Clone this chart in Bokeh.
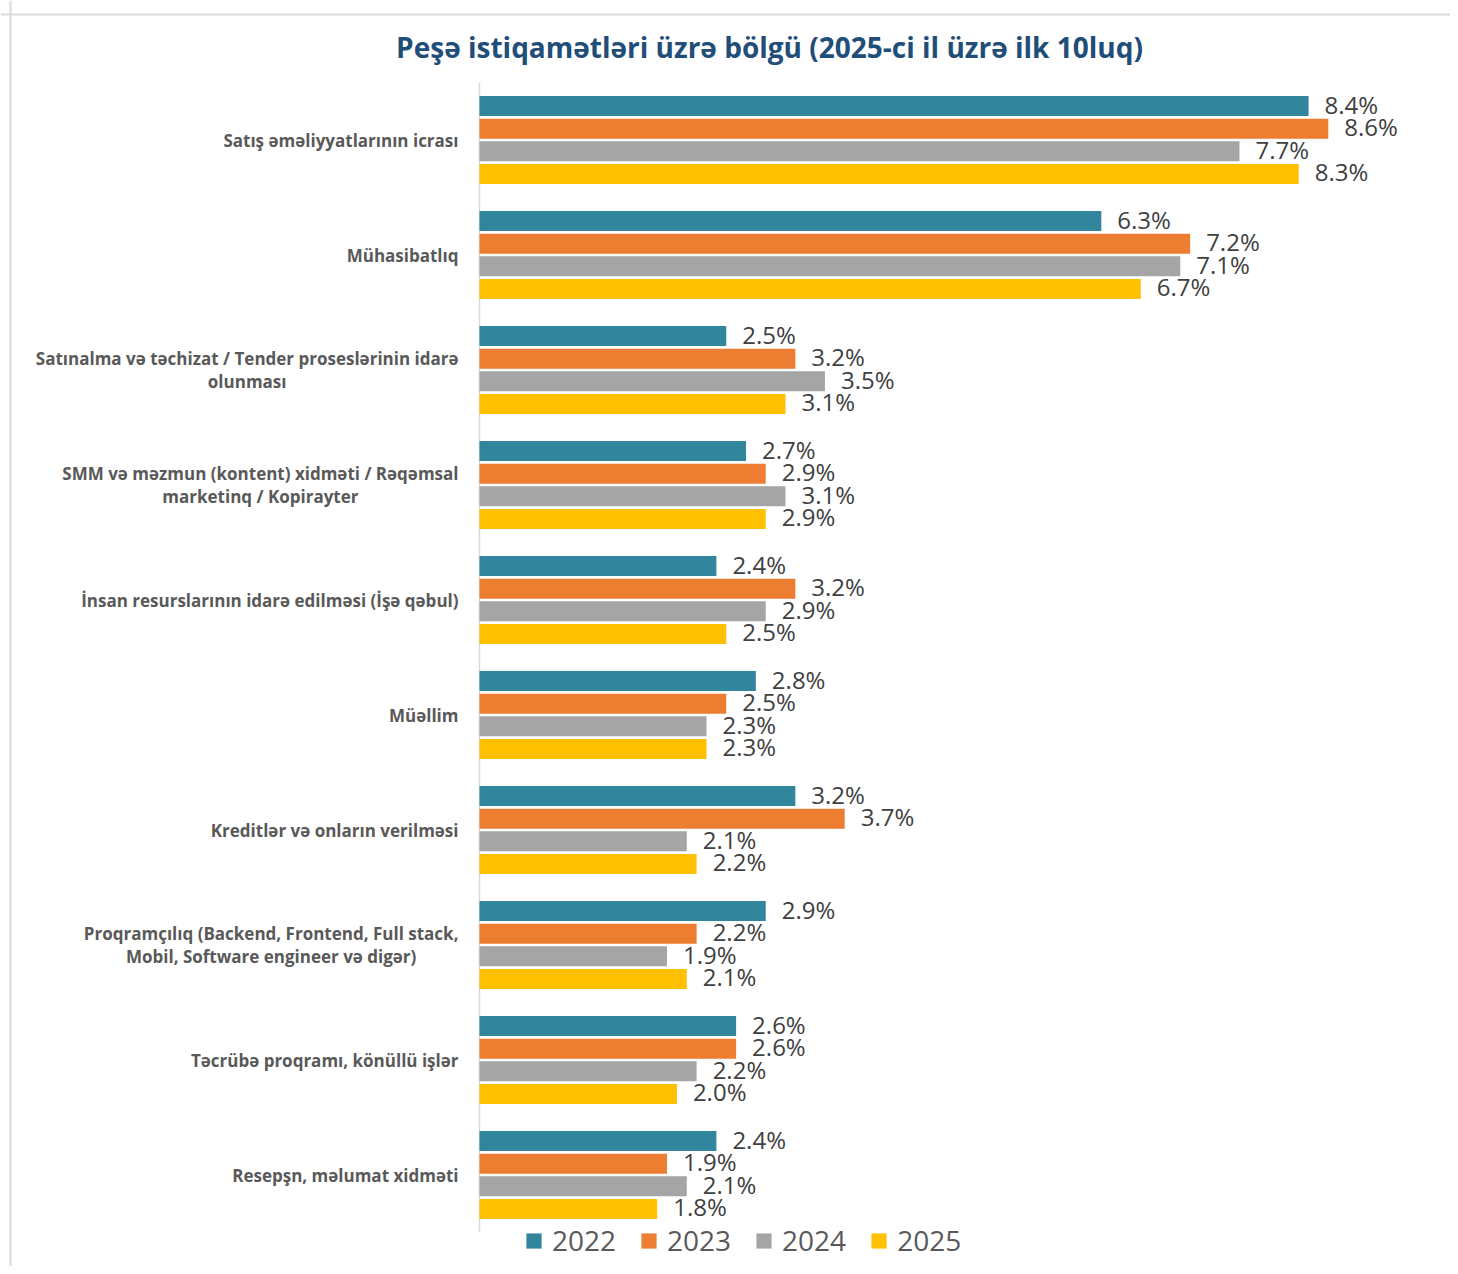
from bokeh.plotting import figure
from bokeh.models import Range1d, ColumnDataSource, Legend, LegendItem, Label, Span
from bokeh.core.properties import value
from bokeh.embed import file_html
from bokeh.resources import INLINE

title_text = "Peşə istiqamətləri üzrə bölgü (2025-ci il üzrə ilk 10luq)"
categories = [
    "Satış əməliyyatlarının icrası",
    "Mühasibatlıq",
    "Satınalma və təchizat / Tender proseslərinin idarə\nolunması",
    "SMM və məzmun (kontent) xidməti / Rəqəmsal\nmarketinq / Kopirayter",
    "İnsan resurslarının idarə edilməsi (İşə qəbul)",
    "Müəllim",
    "Kreditlər və onların verilməsi",
    "Proqramçılıq (Backend, Frontend, Full stack,\nMobil, Software engineer və digər)",
    "Təcrübə proqramı, könüllü işlər",
    "Resepşn, məlumat xidməti",
]
years = ["2022", "2023", "2024", "2025"]
v2022 = [8.4, 6.3, 2.5, 2.7, 2.4, 2.8, 3.2, 2.9, 2.6, 2.4]
v2023 = [8.6, 7.2, 3.2, 2.9, 3.2, 2.5, 3.7, 2.2, 2.6, 1.9]
v2024 = [7.7, 7.1, 3.5, 3.1, 2.9, 2.3, 2.1, 1.9, 2.2, 2.1]
v2025 = [8.3, 6.7, 3.1, 2.9, 2.5, 2.3, 2.2, 2.1, 2.0, 1.8]
series = [v2022, v2023, v2024, v2025]
colors = ["#31859C", "#ED7D31", "#A5A5A5", "#FFC000"]

W, H = 1450, 1266
PX = 98.7      # pixels per percent
X0 = 479       # figure px of value 0
BAND = 115     # px per category
TOP = 82       # figure px of top of first band


def xd(px):
    return (px - X0) / PX


def yd(py):
    return -0.5 + (py - TOP) / BAND


p = figure(width=W, height=H, x_range=Range1d(xd(0), xd(W)),
           y_range=Range1d(yd(H), yd(0)), output_backend="svg",
           toolbar_location=None, min_border=0,
           x_axis_location=None, y_axis_location=None)
p.grid.visible = False
p.outline_line_color = None
p.background_fill_color = "white"

# chart border lines
p.add_layout(Span(location=yd(14), dimension="width", line_color="#D9D9D9", line_width=2))
p.add_layout(Span(location=xd(10), dimension="height", line_color="#D9D9D9", line_width=2))

# vertical axis line
p.segment(x0=[0], y0=[-0.5], x1=[0], y1=[len(categories) - 0.5],
          line_color="#D9D9D9", line_width=1.5)

items = []
for j, yr in enumerate(years):
    offs = (j - 1.5) * 22.6 / BAND
    src = ColumnDataSource(dict(
        y=[i + offs for i in range(len(categories))],
        right=series[j],
        label=[f"{v:.1f}%" for v in series[j]],
    ))
    r = p.hbar(y="y", left=0, right="right", height=20 / BAND,
               fill_color=colors[j], line_color=None, source=src)
    p.text(x="right", y="y", text="label", x_offset=16, y_offset=-2,
           text_align="left", text_baseline="middle",
           text_font=value("Open Sans"), text_font_size="24px",
           text_color="#404040", source=src)
    items.append(LegendItem(label=yr, renderers=[r]))

cat_src = ColumnDataSource(dict(
    x=[0] * len(categories),
    y=list(range(len(categories))),
    text=categories,
))
p.text(x="x", y="y", text="text", x_offset=-21, anchor="center_right",
       text_align="center", text_baseline="middle", text_line_height=1.0,
       text_font=value("Open Sans"), text_font_style="bold",
       text_font_size="17px", text_color="#595959", source=cat_src)

p.add_layout(Label(x=xd(769), y=yd(46), text=title_text, text_align="center",
                   text_baseline="middle", text_font="Open Sans",
                   text_font_style="bold", text_font_size="28px",
                   text_color="#1F4E79"))

legend = Legend(items=items, orientation="horizontal", location=(524, 7),
                glyph_width=19, glyph_height=19, label_standoff=9, spacing=23,
                label_text_font_size="28px", label_text_color="#595959",
                label_text_font="Open Sans", border_line_color=None,
                background_fill_alpha=0, padding=0, margin=0)
p.add_layout(legend)

open("out.html", "w").write(file_html(p, INLINE))
